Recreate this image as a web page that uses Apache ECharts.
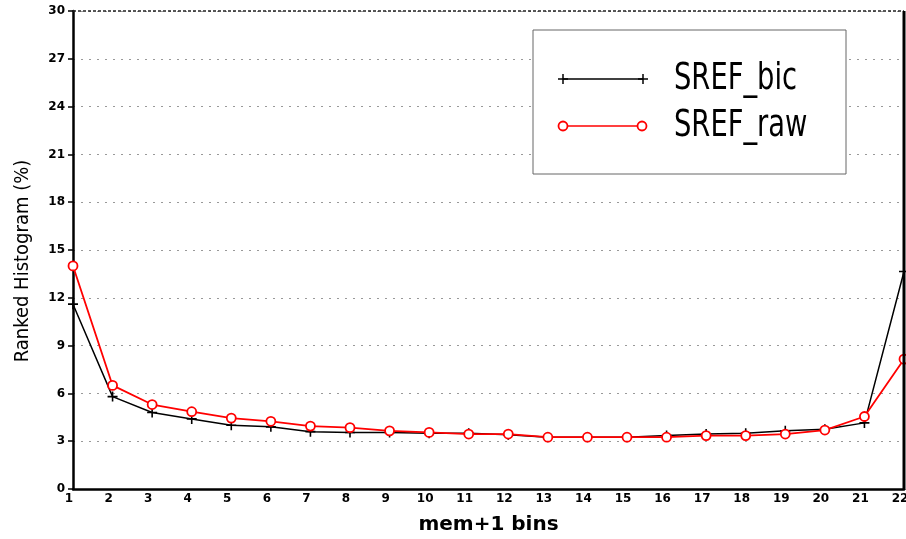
<!DOCTYPE html>
<html><head><meta charset="utf-8">
<script src="https://cdn.jsdelivr.net/npm/echarts@6/dist/echarts.min.js"></script>
<style>html,body{margin:0;padding:0;background:#fff}#c{width:906px;height:539px}</style>
</head><body><div id="c"></div>
<script>
const bins = [1,2,3,4,5,6,7,8,9,10,11,12,13,14,15,16,17,18,19,20,21,22];
const sref_bic = [11.6,5.8,4.8,4.4,4.0,3.9,3.6,3.55,3.55,3.5,3.5,3.4,3.25,3.25,3.25,3.35,3.45,3.5,3.65,3.75,4.15,13.65];
const sref_raw = [14.0,6.5,5.3,4.85,4.45,4.25,3.95,3.85,3.65,3.55,3.45,3.45,3.25,3.25,3.25,3.25,3.35,3.35,3.45,3.7,4.55,8.15];
const yTicks = [0,3,6,9,12,15,18,21,24,27,30];
const seriesNames = ['SREF_bic','SREF_raw'];

const plus = 'path://M0.42,0H0.58V0.42H1V0.58H0.58V1H0.42V0.58H0V0.42H0.42Z';
const chart = echarts.init(document.getElementById('c'), null, {renderer:'canvas'});
const pairs = a => a.map((v,i)=>[bins[i], v]);
const tickFont = {fontFamily:'DejaVu Sans', fontWeight:'bold', fontSize:12, color:'#000'};
const ln = (x1,y1,x2,y2,stroke,w,z,dash) => ({type:'line', shape:{x1,y1,x2,y2}, style:{stroke, lineWidth:w, lineDash:dash||null}, z});

chart.setOption({
  animation:false,
  backgroundColor:'#fff',
  grid:{left:73, right:2, top:11, bottom:50, containLabel:false, outerBoundsMode:'none'},
  xAxis:{type:'value', min:1, max:22, interval:1,
    name:'mem+1 bins', nameLocation:'middle', nameGap:26,
    nameTextStyle:{fontFamily:'DejaVu Sans', fontWeight:'bold', fontSize:20, color:'#000'},
    axisLine:{lineStyle:{color:'#000', width:2.5}},
    axisTick:{show:false},
    axisLabel:Object.assign({margin:4, align:'center', padding:[0,8,0,0]}, tickFont),
    splitLine:{show:false}},
  yAxis:{type:'value', min:0, max:30, interval:3,
    name:'Ranked Histogram (%)', nameLocation:'middle', nameGap:40,
    nameTextStyle:{fontFamily:'Liberation Sans Narrow, DejaVu Sans Condensed, Liberation Sans', fontSize:20, color:'#000', padding:[0,22,0,0]},
    axisLine:{show:true, lineStyle:{color:'#000', width:2.5}},
    axisTick:{show:true, length:5, lineStyle:{color:'#000', width:1.5}},
    axisLabel:Object.assign({margin:8, formatter:v=>yTicks.includes(v)?String(v):''}, tickFont),
    splitLine:{show:true, lineStyle:{color:'#999', type:[2,6], width:1}}},
  series:[
    {name:seriesNames[0], type:'line', data:pairs(sref_bic), symbol:plus, symbolSize:10,
     showAllSymbol:true, lineStyle:{color:'#000', width:1.5}, itemStyle:{color:'#000'}, z:2},
    {name:seriesNames[1], type:'line', data:pairs(sref_raw), symbol:'circle', symbolSize:9,
     showAllSymbol:true, lineStyle:{color:'#ff0000', width:1.8},
     itemStyle:{color:'#fff', borderColor:'#ff0000', borderWidth:1.8}, z:3}
  ],
  graphic:[
    ln(73,11,904,11,'#222',1.5,10,[3,2]),
    ln(904,11,904,490,'#000',3,10),
    {type:'rect', shape:{x:533, y:30, width:313, height:144}, style:{fill:'#fff', stroke:'#666', lineWidth:1}, z:20},
    ln(563,79,643,79,'#000',1.5,21),
    ln(563,74,563,84,'#000',1.5,21),
    ln(558,79,568,79,'#000',1.5,21),
    ln(643,74,643,84,'#000',1.5,21),
    ln(638,79,648,79,'#000',1.5,21),
    ln(563,126,642,126,'#ff0000',1.5,21),
    {type:'circle', shape:{cx:563, cy:126, r:4.5}, style:{stroke:'#ff0000', fill:'#fff', lineWidth:1.8}, z:22},
    {type:'circle', shape:{cx:642, cy:126, r:4.5}, style:{stroke:'#ff0000', fill:'#fff', lineWidth:1.8}, z:22},
    {type:'text', x:674, y:79, scaleX:0.72, style:{text:seriesNames[0], fill:'#000', font:'38px "DejaVu Sans"', textVerticalAlign:'middle'}, z:22},
    {type:'text', x:674, y:126, scaleX:0.72, style:{text:seriesNames[1], fill:'#000', font:'38px "DejaVu Sans"', textVerticalAlign:'middle'}, z:22}
  ]
});
</script></body></html>
